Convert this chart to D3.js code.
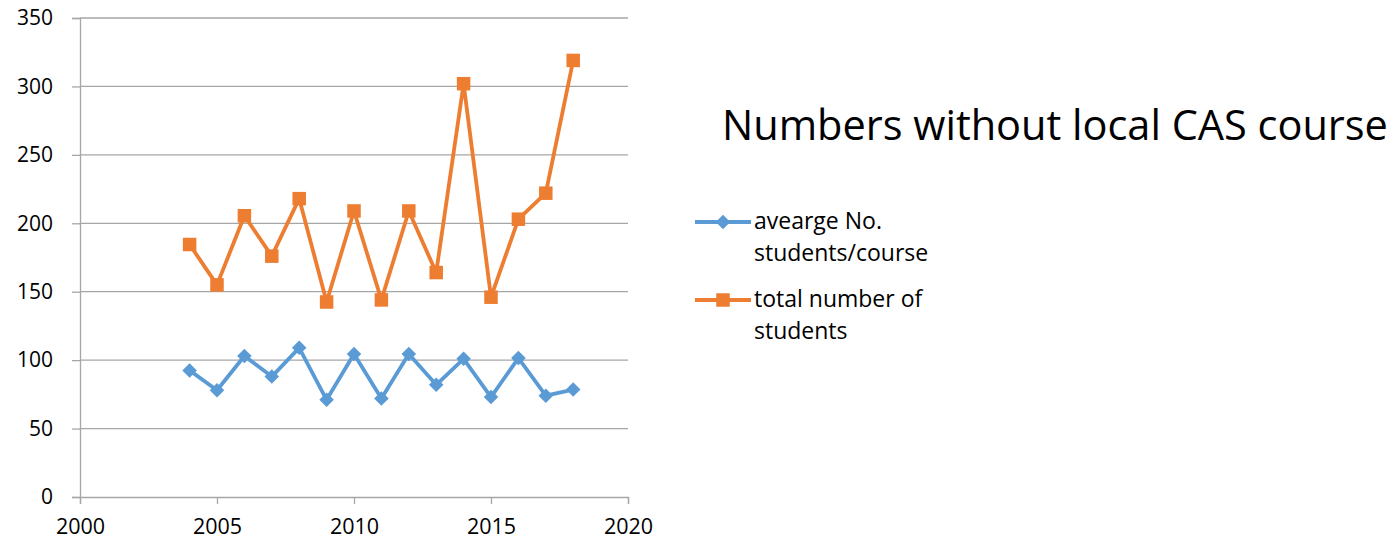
<!DOCTYPE html>
<html>
<head>
<meta charset="utf-8">
<script src="https://cdn.jsdelivr.net/npm/d3@7/dist/d3.min.js"></script>
<style>
  html, body { margin: 0; padding: 0; background: #fff; }
  svg { display: block; }
  text { font-family: "Open Sans", "Noto Sans", sans-serif; fill: #000; }
</style>
</head>
<body>
<svg id="chart" width="1393" height="545"></svg>
<script>
// Years and the two series
const years = [2004, 2005, 2006, 2007, 2008, 2009, 2010, 2011, 2012, 2013, 2014, 2015, 2016, 2017, 2018];
const avgPerCourse = [92.5, 78, 103, 88, 109, 71, 104.5, 72, 104.5, 82, 101, 73, 101.5, 74, 78.5];
const totalStudents = [184.5, 155, 205.5, 176, 218, 142.5, 209, 144, 209, 164, 302, 146, 203, 222, 319];

const xTicks = [2000, 2005, 2010, 2015, 2020];
const yTicks = [0, 50, 100, 150, 200, 250, 300, 350];

const seriesNames = ["avearge No.\nstudents/course", "total number of\nstudents"];
const titleText = "Numbers without local CAS course";

const colors = { avg: "#5B9BD5", total: "#ED7D31", grid: "#A6A6A6", axis: "#A6A6A6" };

const svg = d3.select("#chart");
const plot = { left: 80, right: 628, top: 18, bottom: 497 };

const x = d3.scaleLinear().domain([2000, 2020]).range([plot.left, plot.right]);
const y = d3.scaleLinear().domain([0, 350]).range([plot.bottom, plot.top]);

// Horizontal gridlines
svg.append("g")
  .selectAll("line")
  .data(yTicks.filter(d => d > 0))
  .join("line")
  .attr("x1", plot.left).attr("x2", plot.right)
  .attr("y1", d => y(d)).attr("y2", d => y(d))
  .attr("stroke", colors.grid).attr("stroke-width", 1.3);

// Y axis
const yAxis = svg.append("g")
  .attr("transform", `translate(${plot.left},0)`)
  .call(d3.axisLeft(y).tickValues(yTicks).tickSize(8).tickPadding(19).tickFormat(d3.format("d")));
yAxis.selectAll("path, line").attr("stroke", colors.axis).attr("stroke-width", 1.3);
yAxis.selectAll("text").style("font-size", "21px").attr("font-family", null);

// X axis
const xAxis = svg.append("g")
  .attr("transform", `translate(0,${plot.bottom})`)
  .call(d3.axisBottom(x).tickValues(xTicks).tickSize(7).tickPadding(15).tickFormat(d3.format("d")));
xAxis.selectAll("path, line").attr("stroke", colors.axis).attr("stroke-width", 1.3);
xAxis.selectAll("text").style("font-size", "21.5px").attr("font-family", null);
svg.selectAll(".domain").attr("stroke", colors.axis);

const line = d3.line().x(d => x(d[0])).y(d => y(d[1]));
const avgData = years.map((yr, i) => [yr, avgPerCourse[i]]);
const totalData = years.map((yr, i) => [yr, totalStudents[i]]);

// Average per course: blue line with diamonds
svg.append("path").datum(avgData)
  .attr("d", line).attr("fill", "none")
  .attr("stroke", colors.avg).attr("stroke-width", 3.8).attr("stroke-linejoin", "round");
const diamond = d3.symbol().type(d3.symbolDiamond2).size(135);
svg.append("g").selectAll("path").data(avgData).join("path")
  .attr("d", diamond)
  .attr("transform", d => `translate(${x(d[0])},${y(d[1])})`)
  .attr("fill", colors.avg);

// Total students: orange line with squares
svg.append("path").datum(totalData)
  .attr("d", line).attr("fill", "none")
  .attr("stroke", colors.total).attr("stroke-width", 3.8).attr("stroke-linejoin", "round");
const sq = 13.5;
svg.append("g").selectAll("rect").data(totalData).join("rect")
  .attr("x", d => x(d[0]) - sq / 2).attr("y", d => y(d[1]) - sq / 2)
  .attr("width", sq).attr("height", sq)
  .attr("fill", colors.total);

// Title
const title = svg.append("text")
  .attr("x", 722).attr("y", 140)
  .style("font-size", "40px")
  .text(titleText);
const tw = title.node().getComputedTextLength();
title.style("font-size", (40 * 666 / tw) + "px");

// Legend
const legend = svg.append("g");
const legendRows = [
  { name: seriesNames[0], color: colors.avg, kind: "diamond", y: 222 },
  { name: seriesNames[1], color: colors.total, kind: "square", y: 300 }
];
legendRows.forEach(r => {
  legend.append("line")
    .attr("x1", 695).attr("x2", 751).attr("y1", r.y).attr("y2", r.y)
    .attr("stroke", r.color).attr("stroke-width", 3.8);
  if (r.kind === "diamond") {
    legend.append("path").attr("d", diamond)
      .attr("transform", `translate(723,${r.y})`)
      .attr("fill", r.color);
  } else {
    legend.append("rect")
      .attr("x", 723 - sq / 2).attr("y", r.y - sq / 2)
      .attr("width", sq).attr("height", sq).attr("fill", r.color);
  }
  const t = legend.append("text").attr("x", 754).attr("y", r.y + 7).style("font-size", "23px");
  r.name.split("\n").forEach((ln, i) => {
    t.append("tspan").attr("x", 754).attr("dy", i === 0 ? 0 : 32).text(ln);
  });
});
</script>
</body>
</html>
